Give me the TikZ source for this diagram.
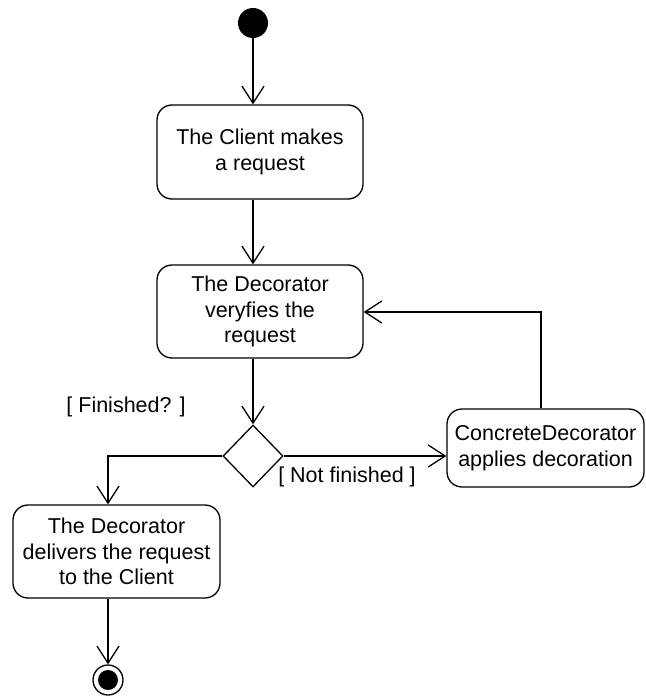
\documentclass[tikz,border=0pt]{standalone}
\usepackage{fontspec}
\setmainfont{Liberation Sans}
\usetikzlibrary{arrows.meta,shapes.geometric}
\begin{document}
\begin{tikzpicture}[x=1pt,y=-1pt,
  every node/.style={font=\fontsize{21.5}{25.5}\selectfont},
  action/.style={draw, rounded corners=15pt, line width=1.3pt, align=center, inner sep=0pt},
  flow/.style={draw, line width=1.3pt, -{Straight Barb[length=17pt,width=22pt,line width=1.3pt]}},
  decision/.style={draw, diamond, line width=1.3pt, inner sep=0pt, minimum width=60pt, minimum height=62pt},
  guard/.style={inner sep=0pt}
]
\useasboundingbox (0,0) rectangle (645,698);

% initial and final states
\node[circle, fill=black, minimum size=30pt, inner sep=0pt] (start) at (253,23) {};
\node[circle, draw, line width=1.3pt, minimum size=30pt, inner sep=0pt] (fin) at (108,680) {};
\fill (fin.center) circle (10pt);

% actions
\node[action, minimum width=206pt, minimum height=94pt] (client) at (260,152)
  {The Client makes\\a request};
\node[action, minimum width=206pt, minimum height=93pt] (verify) at (260,311.5)
  {The Decorator\\veryfies the\\request};
\node[decision] (dec) at (253,456) {};
\node[action, minimum width=197pt, minimum height=78pt] (conc) at (545.5,448)
  {ConcreteDecorator\\applies decoration};
\node[action, minimum width=207pt, minimum height=93pt] (deliver) at (116.5,551.5)
  {The Decorator\\delivers the request\\to the Client};

% guards
\node[guard] (gfin) at (126,407) {[ Finished? ]};
\node[guard] (gnot) at (347,477) {[ Not finished ]};

% control flow
\coordinate (bend) at (541,312);
\draw[flow] (start) -- (start |- client.north);
\draw[flow] (client.south -| start) -- (verify.north -| start);
\draw[flow] (verify.south -| start) -- (dec.north);
\draw[flow] (dec.east) -- (dec.east -| conc.west);
\draw[flow] (dec.west) -| (deliver.north -| fin);
\draw[flow] (conc.north -| bend) |- (verify.east |- bend);
\draw[flow] (deliver.south -| fin) -- (fin.north);
\end{tikzpicture}
\end{document}
